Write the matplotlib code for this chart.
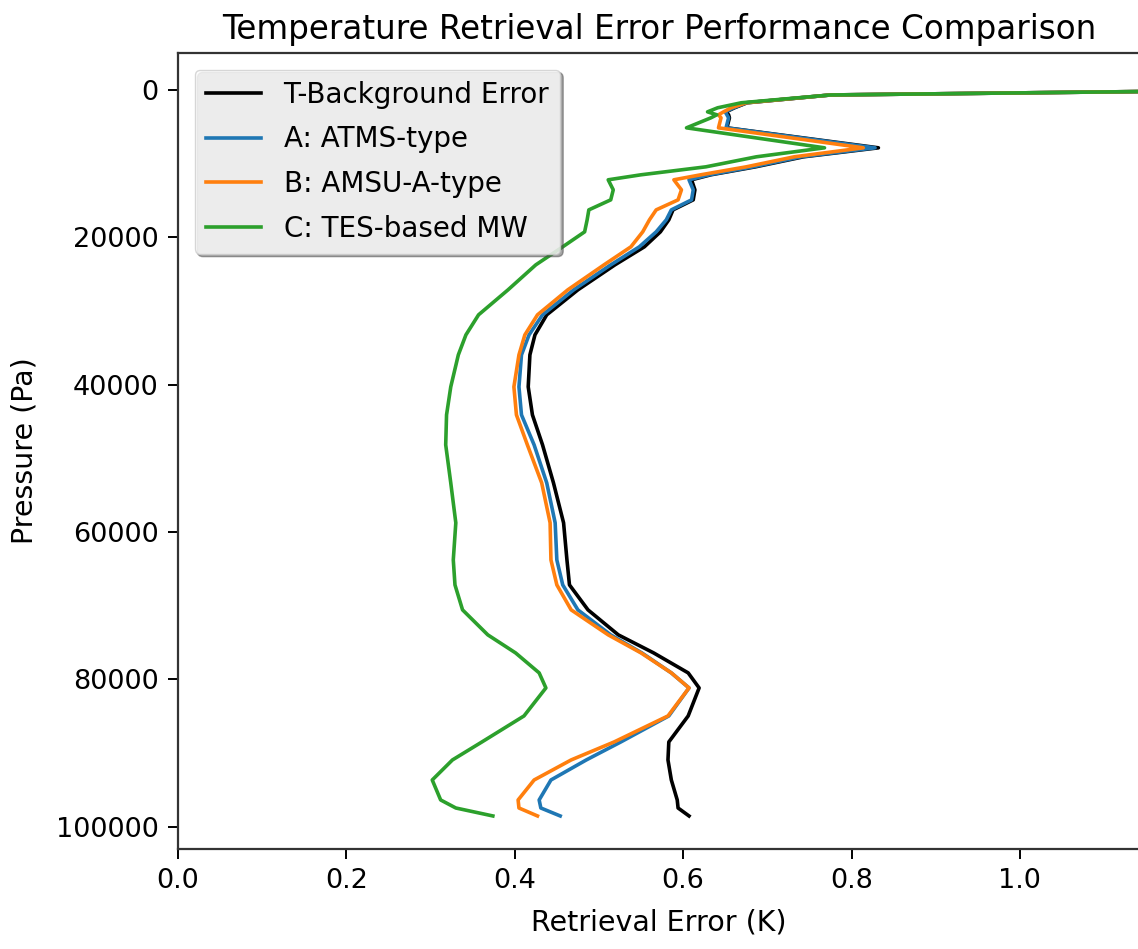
import matplotlib.pyplot as plt

# pressure levels (Pa) shared by all profiles
pressure = [
    0, 700, 1760, 2440, 2990, 3390, 3800, 5160, 7870, 9090, 10450, 11530,
    12210, 13570, 14930, 16290, 17640, 19270, 21300, 23750, 27140, 30530,
    33250, 35960, 40300, 44100, 48170, 53330, 58750, 63780, 67170, 70560,
    73950, 76400, 79110, 81150, 84950, 88480, 90920, 93640, 96350, 97440,
    98520,
]

background = [
    1.33, 0.775, 0.676, 0.661, 0.651, 0.654, 0.655, 0.652, 0.832, 0.743,
    0.686, 0.633, 0.610, 0.614, 0.612, 0.588, 0.583, 0.573, 0.554, 0.519,
    0.475, 0.438, 0.424, 0.418, 0.416, 0.421, 0.433, 0.446, 0.458, 0.462,
    0.465, 0.487, 0.523, 0.565, 0.606, 0.619, 0.606, 0.583, 0.582, 0.586,
    0.593, 0.594, 0.607,
]

atms = [
    1.33, 0.775, 0.675, 0.660, 0.650, 0.652, 0.654, 0.651, 0.828, 0.740,
    0.683, 0.631, 0.607, 0.612, 0.610, 0.586, 0.580, 0.568, 0.548, 0.514,
    0.470, 0.433, 0.417, 0.408, 0.405, 0.408, 0.423, 0.438, 0.448, 0.450,
    0.457, 0.475, 0.514, 0.551, 0.586, 0.607, 0.583, 0.526, 0.485, 0.443,
    0.429, 0.431, 0.454,
]

amsu = [
    1.33, 0.775, 0.675, 0.657, 0.648, 0.642, 0.645, 0.642, 0.814, 0.732,
    0.675, 0.621, 0.589, 0.598, 0.594, 0.568, 0.560, 0.552, 0.538, 0.506,
    0.463, 0.427, 0.412, 0.405, 0.399, 0.402, 0.415, 0.432, 0.442, 0.443,
    0.450, 0.467, 0.511, 0.550, 0.586, 0.607, 0.582, 0.518, 0.467, 0.423,
    0.404, 0.405, 0.427,
]

tes = [
    1.33, 0.775, 0.669, 0.641, 0.629, 0.640, 0.633, 0.604, 0.768, 0.687,
    0.627, 0.550, 0.511, 0.517, 0.514, 0.488, 0.486, 0.483, 0.457, 0.425,
    0.392, 0.357, 0.342, 0.333, 0.324, 0.319, 0.318, 0.324, 0.330, 0.327,
    0.329, 0.338, 0.368, 0.401, 0.429, 0.437, 0.411, 0.361, 0.326, 0.302,
    0.312, 0.330, 0.374,
]

FS = 19.5
LW = 2.6


def main():
    fig, ax = plt.subplots(figsize=(11.38, 9.49), dpi=100)
    fig.subplots_adjust(left=0.1564, right=1.002, bottom=0.1054, top=0.9442)

    ax.plot(background, pressure, color="black", lw=LW, label="T-Background Error")
    ax.plot(atms, pressure, color="tab:blue", lw=LW, label="A: ATMS-type")
    ax.plot(amsu, pressure, color="tab:orange", lw=LW, label="B: AMSU-A-type")
    ax.plot(tes, pressure, color="tab:green", lw=LW, label="C: TES-based MW")

    ax.set_xlim(0, 1.143)
    ax.set_ylim(103000, -5000)

    ax.set_title("Temperature Retrieval Error Performance Comparison", fontsize=23.5, pad=10)
    ax.set_xlabel("Retrieval Error (K)", fontsize=20.5, labelpad=10)
    ax.set_ylabel("Pressure (Pa)", fontsize=20.5, labelpad=12)
    ax.tick_params(labelsize=FS, length=7, width=1.4, pad=7)
    for spine in ax.spines.values():
        spine.set_linewidth(1.6)
        spine.set_edgecolor("#333333")

    ax.legend(loc="upper left", fontsize=20, shadow=True, framealpha=0.8,
              labelspacing=0.6, borderaxespad=0.6)

    fig.savefig("out.png")


if __name__ == "__main__":
    main()
